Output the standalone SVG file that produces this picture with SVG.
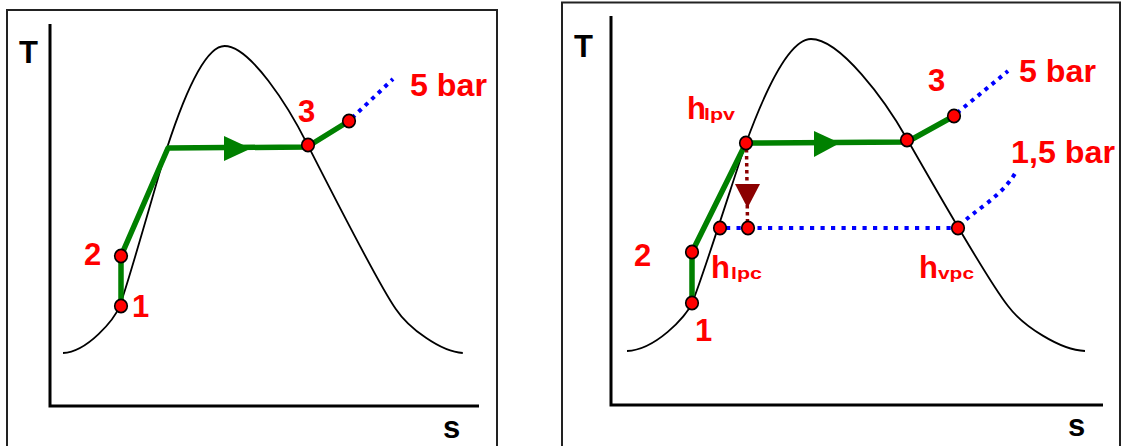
<svg xmlns="http://www.w3.org/2000/svg" width="1122" height="446" viewBox="0 0 1122 446">
<defs>
<style>
.frame{fill:none;stroke:#222;stroke-width:2}
.axis{fill:none;stroke:#000;stroke-width:3}
.curve{fill:none;stroke:#000;stroke-width:1.8}
.green{fill:none;stroke:#008000;stroke-width:5.5;stroke-linejoin:round}
.blue{fill:none;stroke:#0000ff;stroke-width:4.2;stroke-dasharray:4.2 6.3}
.blue2{fill:none;stroke:#0000ff;stroke-width:4;stroke-dasharray:4 5}
.dred{fill:none;stroke:#8b0000;stroke-width:3.5;stroke-dasharray:3.5 3.5}
.dot{fill:#ff0000;stroke:#000;stroke-width:1.6}
.lbl{font-family:"Liberation Sans",Arial,Helvetica,sans-serif;font-weight:bold;font-size:31px;fill:#ff0000}
.sub{font-family:"Liberation Sans",Arial,Helvetica,sans-serif;font-weight:bold;font-size:17px;fill:#ff0000}
.ax{font-family:"Liberation Sans",Arial,Helvetica,sans-serif;font-weight:bold;font-size:31px;fill:#000}
</style>
</defs>
<g id="left-panel">
<rect class="frame" x="7" y="10" width="490" height="450"/>
<g id="left-axes">
<polyline class="axis" points="50,24 50,406 479,406"/>
<text class="ax" x="19" y="63">T</text>
<text class="ax" x="443" y="438">s</text>
</g>
<path id="left-dome" class="curve" d="M63,353 C87.4,352 114.5,319.5 119.7,305.8 C127.6,286.1 160.8,167 166.9,148.3 C176.5,118.8 200.9,46 224.6,46 C250,46 288.2,106 307.4,144.4 C324.9,178.8 379,285.1 395.6,308.7 C408.7,328.4 441,352 462.8,353"/>
<g id="left-connectors">
<polyline class="green" points="121,306 121,256 168,148 307,147 349,121"/>
<polygon fill="#008000" points="224,136 224,161 251,148.5"/>
<line class="blue2" x1="352" y1="118" x2="393" y2="79"/>
</g>
<g id="left-node-1"><ellipse class="dot" cx="121" cy="306" rx="6.3" ry="6.6"/><text class="lbl" x="132" y="317">1</text></g>
<g id="left-node-2"><ellipse class="dot" cx="121" cy="256" rx="6.3" ry="6.6"/><text class="lbl" x="84" y="265">2</text></g>
<g id="left-node-3"><ellipse class="dot" cx="308" cy="145" rx="6.3" ry="6.6"/><text class="lbl" x="298" y="122">3</text></g>
<g id="left-node-4"><ellipse class="dot" cx="349" cy="121" rx="6.3" ry="6.6"/></g>
<text class="lbl" x="410" y="96" textLength="77" lengthAdjust="spacingAndGlyphs">5 bar</text>
</g>
<g id="right-panel">
<rect class="frame" x="562" y="2.5" width="558" height="460"/>
<g id="right-axes">
<polyline class="axis" points="611,16 611,405 1103,405"/>
<text class="ax" x="574" y="57">T</text>
<text class="ax" x="1068" y="436">s</text>
</g>
<path id="right-dome" class="curve" d="M627,351 C655,350 686,317 692,303 C701,283 739,162 746,143 C757,113 785,39 811,39 C840,39 885,100 907,139 C927,174 989,282 1008,306 C1023,326 1060,350 1085,351"/>
<g id="right-connectors">
<polyline class="green" points="692,303 692,252 746,143 907,142 954,116"/>
<polygon fill="#008000" points="814,131 814,157 840,143"/>
<line class="blue2" x1="957" y1="113" x2="1008" y2="71"/>
<line class="blue" x1="726" y1="228" x2="958" y2="228"/>
<path class="blue2" d="M960,226 C972,211 1002,198 1017,170"/>
<line class="dred" x1="746.5" y1="149" x2="747.5" y2="222"/>
<polygon fill="#8b0000" points="735,184 760,184 747.5,208"/>
</g>
<g id="right-node-1"><ellipse class="dot" cx="692" cy="303" rx="6.3" ry="6.6"/><text class="lbl" x="695" y="341">1</text></g>
<g id="right-node-2"><ellipse class="dot" cx="692" cy="252" rx="6.3" ry="6.6"/><text class="lbl" x="634" y="266">2</text></g>
<g id="right-node-hlpc"><ellipse class="dot" cx="720" cy="228" rx="6.3" ry="6.6"/><text class="lbl" x="711" y="278">h</text><text class="sub" x="731" y="279" textLength="31" lengthAdjust="spacingAndGlyphs">lpc</text></g>
<g id="right-node-mid"><ellipse class="dot" cx="748" cy="228" rx="6.3" ry="6.6"/></g>
<g id="right-node-hlpv"><ellipse class="dot" cx="746" cy="143" rx="6.3" ry="6.6"/><text class="lbl" x="687" y="119">h</text><text class="sub" x="704" y="120" textLength="31" lengthAdjust="spacingAndGlyphs">lpv</text></g>
<g id="right-node-3"><ellipse class="dot" cx="907" cy="140" rx="6.3" ry="6.6"/><text class="lbl" x="928" y="91">3</text></g>
<g id="right-node-4"><ellipse class="dot" cx="954" cy="116" rx="6.3" ry="6.6"/></g>
<g id="right-node-hvpc"><ellipse class="dot" cx="958" cy="228" rx="6.3" ry="6.6"/><text class="lbl" x="919" y="278">h</text><text class="sub" x="938" y="279" textLength="36" lengthAdjust="spacingAndGlyphs">vpc</text></g>
<text class="lbl" x="1019" y="82" textLength="77" lengthAdjust="spacingAndGlyphs">5 bar</text>
<text class="lbl" x="1011" y="163" textLength="104" lengthAdjust="spacingAndGlyphs">1,5 bar</text>
</g>
</svg>
